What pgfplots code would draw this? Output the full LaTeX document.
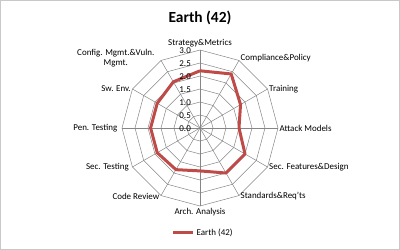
\documentclass[border=0pt]{standalone}
\usepackage{pgfplots}
\pgfplotsset{compat=1.18}
\usepgfplotslibrary{polar}
\usepackage{fontspec}
\setmainfont{Carlito}
\definecolor{gridc}{RGB}{134,134,134}
\definecolor{framec}{RGB}{200,200,200}
\definecolor{serc}{RGB}{190,75,72}
\begin{document}
\begin{tikzpicture}
\useasboundingbox (0,0) rectangle (400bp,250bp);
\draw[framec] (0.5bp,0.5bp) rectangle (399.5bp,249.5bp);
\node[font=\bfseries\fontsize{15.5}{18}\selectfont] at (200bp,232bp) {Earth (42)};
\begin{polaraxis}[
  at={(200bp,122bp)}, anchor=center,
  scale only axis, width=156bp, height=156bp,
  ymin=0, ymax=3, xmin=0, xmax=360,
  hide axis, clip=false,
  legend style={draw=none, fill=none, at={(0.52,-0.173)}, anchor=center,
    font=\fontsize{9}{11}\selectfont, inner sep=0pt,
    /tikz/every even column/.append style={column sep=0pt}},
  legend image code/.code={\draw[#1] (0bp,0bp) -- (20bp,0bp);},
]
% grid polygons
\foreach \r in {0.5,1.0,1.5,2.0,2.5,3.0}{
  \addplot[gridc, line width=0.5pt, forget plot] coordinates {(90,\r) (60,\r) (30,\r) (0,\r) (-30,\r) (-60,\r) (-90,\r) (-120,\r) (-150,\r) (-180,\r) (-210,\r) (-240,\r) (90,\r)};
}
% spokes
\foreach \a in {0,30,...,330}{
  \addplot[gridc, line width=0.5pt, forget plot] coordinates {(\a,0) (\a,3)};
}
\addplot[serc, line width=3bp, line join=round] coordinates {
 (90,2.2) (60,2.4) (30,1.8) (0,1.5) (-30,2.0) (-60,2.0) (-90,1.65) (-120,1.85) (-150,1.9) (-180,1.9) (-210,1.9) (-240,2.05) (90,2.2)};
\addlegendentry{Earth (42)}
% tick labels
\foreach \r/\t in {0/0.0,0.5/0.5,1/1.0,1.5/1.5,2/2.0,2.5/2.5,3/3.0}{
  \edef\tmp{\noexpand\node[anchor=east, inner sep=0pt, xshift=-9bp, yshift=-1bp, font=\noexpand\fontsize{9}{11}\noexpand\selectfont] at (axis cs:90,\r) {\t};}
  \tmp
}
% category labels
\begin{scope}[every node/.style={font=\fontsize{9}{10.5}\selectfont, inner sep=1.5pt}]
\node[anchor=south, yshift=1bp] at (axis cs:90,3) {Strategy\&Metrics};
\node[anchor=west, yshift=2.5bp] at (axis cs:60,3) {Compliance\&Policy};
\node[anchor=west] at (axis cs:30,3) {Training};
\node[anchor=west] at (axis cs:0,3) {Attack Models};
\node[anchor=west] at (axis cs:-30,3) {Sec. Features\&Design};
\node[anchor=west, yshift=-1bp] at (axis cs:-60,3) {Standards\&Req'ts};
\node[anchor=north, yshift=-1bp] at (axis cs:-90,3) {Arch. Analysis};
\node[anchor=east, yshift=-1bp] at (axis cs:-120,3) {Code Review};
\node[anchor=east, xshift=-2bp] at (axis cs:-150,3) {Sec. Testing};
\node[anchor=east, xshift=-3bp] at (axis cs:180,3) {Pen. Testing};
\node[anchor=east] at (axis cs:150,3) {Sw. Env.};
\node[anchor=east, yshift=2.5bp, xshift=-5bp, align=center] at (axis cs:120,3) {Config. Mgmt.\&Vuln.\\Mgmt.};
\end{scope}
\end{polaraxis}
\end{tikzpicture}
\end{document}
